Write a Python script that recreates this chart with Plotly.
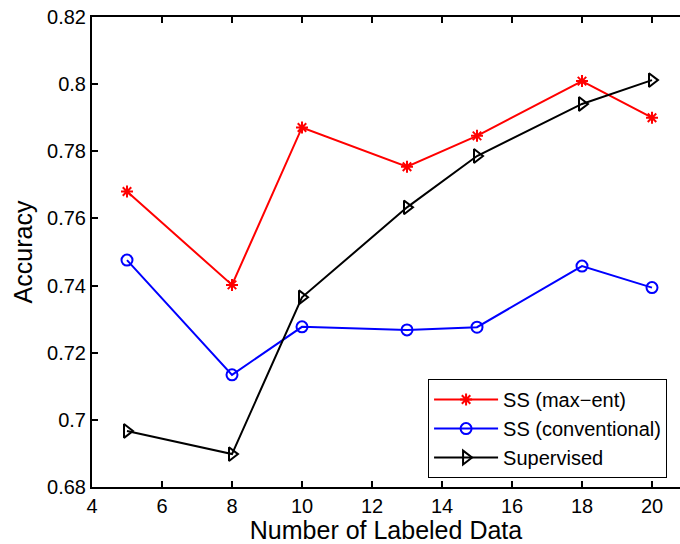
import plotly.graph_objects as go

x_vals = [5, 8, 10, 13, 15, 18, 20]
ss_maxent = [0.7680, 0.7402, 0.7871, 0.7754, 0.7846, 0.8009, 0.7900]
ss_conv = [0.7476, 0.7134, 0.7277, 0.7268, 0.7276, 0.7458, 0.7394]
supervised = [0.6967, 0.6898, 0.7365, 0.7633, 0.7786, 0.7941, 0.8012]

x_ticks = [4, 6, 8, 10, 12, 14, 16, 18, 20]
y_ticks = [0.68, 0.70, 0.72, 0.74, 0.76, 0.78, 0.80, 0.82]
y_tick_text = ["0.68", "0.7", "0.72", "0.74", "0.76", "0.78", "0.8", "0.82"]

font = "Liberation Sans, Arial, sans-serif"

fig = go.Figure()
fig.add_trace(go.Scatter(x=x_vals, y=ss_maxent, name="SS (max\u2212ent)", mode="lines+markers",
                         line=dict(color="#ff0000", width=2),
                         marker=dict(symbol="asterisk-open", size=10, color="#ff0000",
                                     line=dict(color="#ff0000", width=2))))
fig.add_trace(go.Scatter(x=x_vals, y=ss_conv, name="SS (conventional)", mode="lines+markers",
                         line=dict(color="#0000ff", width=2),
                         marker=dict(symbol="circle-open", size=11, color="#0000ff",
                                     line=dict(color="#0000ff", width=2))))
fig.add_trace(go.Scatter(x=x_vals, y=supervised, name="Supervised", mode="lines+markers",
                         line=dict(color="#000000", width=2),
                         marker=dict(symbol="triangle-right-open", size=12, color="#000000",
                                     line=dict(color="#000000", width=2))))

fig.update_layout(
    width=680, height=544,
    margin=dict(l=92, r=0, t=17, b=57),
    paper_bgcolor="white", plot_bgcolor="white",
    font=dict(family=font, size=20, color="black"),
    showlegend=True,
    legend=dict(x=0.978, y=0.019, xanchor="right", yanchor="bottom",
                bgcolor="white", bordercolor="black", borderwidth=1,
                font=dict(size=20), tracegroupgap=0, itemwidth=64),
    xaxis=dict(range=[4, 20.8], tickvals=x_ticks, ticks="inside", ticklen=6,
               tickwidth=1.5, tickcolor="black", showline=True, linecolor="black",
               linewidth=2, mirror="ticks", showgrid=False, zeroline=False,
               automargin=False,
               title=dict(text="Number of Labeled Data", font=dict(size=25), standoff=2),
               tickfont=dict(size=20)),
    yaxis=dict(range=[0.68, 0.82], tickvals=y_ticks, ticktext=y_tick_text, ticks="inside",
               ticklen=6, tickwidth=1.5, tickcolor="black", showline=True, linecolor="black",
               linewidth=2, mirror=False, showgrid=False, zeroline=False,
               automargin=False,
               title=dict(text="Accuracy", font=dict(size=25), standoff=7),
               tickfont=dict(size=20)),
)

fig.write_html("out.html", config={"displayModeBar": False},
               post_script="document.body.style.margin='0';document.body.style.overflow='hidden';")
